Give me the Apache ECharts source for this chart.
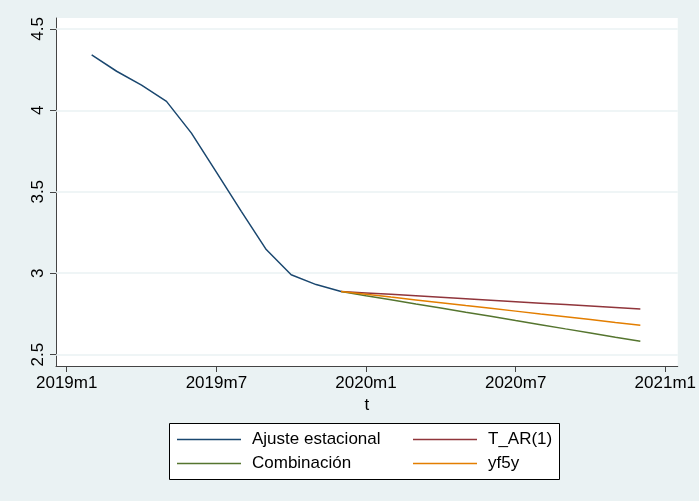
<!DOCTYPE html>
<html><head><meta charset="utf-8">
<script src="https://cdn.jsdelivr.net/npm/echarts@6/dist/echarts.min.js"></script>
<style>html,body{margin:0;padding:0;background:#eaf2f3;}#c{width:699px;height:501px;}</style>
</head><body><div id="c"></div>
<script>
// month index: 0 = 2019m1
const tickValues = [0, 6, 12, 18, 24];
const tickLabels = ['2019m1', '2019m7', '2020m1', '2020m7', '2021m1'];
const yTicks = [2.5, 3, 3.5, 4, 4.5];

const ajusteMonths = [1, 2, 3, 4, 5, 6, 7, 8, 9, 10, 11];
const ajuste = [4.34, 4.24, 4.155, 4.055, 3.86, 3.62, 3.38, 3.145, 2.99, 2.93, 2.888];

const fcMonths = [11, 12, 13, 14, 15, 16, 17, 18, 19, 20, 21, 22, 23];
const tAR1 = [2.888, 2.879, 2.870, 2.861, 2.852, 2.843, 2.834, 2.825, 2.816, 2.807, 2.798, 2.789, 2.780];
const combinacion = [2.888, 2.862, 2.837, 2.811, 2.786, 2.760, 2.735, 2.709, 2.684, 2.658, 2.633, 2.607, 2.582];
const yf5y = [2.888, 2.871, 2.853, 2.836, 2.819, 2.801, 2.784, 2.767, 2.749, 2.732, 2.715, 2.697, 2.680];

const pair = (xs, ys) => xs.map((x, i) => [x, ys[i]]);
const font = 'Liberation Sans, Arial, sans-serif';

const chart = echarts.init(document.getElementById('c'), null, {renderer: 'canvas'});
const lineSeries = (name, xs, ys, color, extra) => Object.assign({
  name, type: 'line', data: pair(xs, ys), showSymbol: false, symbol: 'none',
  lineStyle: {color, width: 1.5}, itemStyle: {color}, animation: false
}, extra || {});

const legendCommon = {
  orient: 'vertical', itemWidth: 64, itemHeight: 14, itemGap: 7, padding: 0,
  icon: 'path://M0,6.2 L64,6.2 L64,7.8 L0,7.8 Z',
  textStyle: {fontFamily: font, fontSize: 17, lineHeight: 17, color: '#000', padding: [0, 0, 0, 6]},
  selectedMode: false
};

chart.setOption({
  backgroundColor: '#eaf2f3',
  animation: false,
  grid: {left: 56, right: 20, top: 18, bottom: 135, show: true, backgroundColor: '#ffffff', borderWidth: 0},
  graphic: [{
    type: 'rect', left: 169, top: 423, z: 0,
    shape: {width: 390, height: 56},
    style: {fill: '#ffffff', stroke: '#000000', lineWidth: 1}
  }],
  legend: [
    Object.assign({left: 177, top: 431, data: ['Ajuste estacional', 'Combinación']}, legendCommon),
    Object.assign({left: 413, top: 431, data: ['T_AR(1)', 'yf5y']}, legendCommon)
  ],
  xAxis: {
    type: 'value', min: -0.43, max: 24.5,
    name: 't', nameLocation: 'middle', nameGap: 31,
    nameTextStyle: {fontFamily: font, fontSize: 17, color: '#000'},
    axisLine: {show: true, onZero: false, lineStyle: {color: '#444', width: 1}},
    axisTick: {show: true, customValues: tickValues, length: 6, lineStyle: {color: '#444'}},
    axisLabel: {customValues: tickValues, fontFamily: font, fontSize: 17, color: '#000', margin: 9,
      formatter: v => tickLabels[tickValues.indexOf(v)] || ''},
    splitLine: {show: false}
  },
  yAxis: {
    type: 'value', min: 2.43, max: 4.567,
    axisLine: {show: true, onZero: false, lineStyle: {color: '#444', width: 1}},
    axisTick: {show: true, customValues: yTicks, length: 6, lineStyle: {color: '#444'}},
    axisLabel: {customValues: yTicks, rotate: 90, align: 'center', verticalAlign: 'bottom',
      fontFamily: font, fontSize: 17, color: '#000', margin: 9,
      formatter: v => String(v)},
    splitLine: {show: false}
  },
  series: [
    {
      name: 'grid', type: 'line', data: [], z: 1, silent: true,
      markLine: {
        z: 1, zlevel: 0,
        silent: true, symbol: ['none', 'none'], animation: false,
        label: {show: false},
        lineStyle: {color: '#eaf2f3', width: 1.5, type: 'solid'},
        data: yTicks.map(v => ({yAxis: v}))
      }
    },
    lineSeries('Ajuste estacional', ajusteMonths, ajuste, '#1a476f', {z: 3}),
    lineSeries('T_AR(1)', fcMonths, tAR1, '#90353b', {z: 3}),
    lineSeries('Combinación', fcMonths, combinacion, '#55752f', {z: 3}),
    lineSeries('yf5y', fcMonths, yf5y, '#e37e00', {z: 4})
  ]
});
</script></body></html>
